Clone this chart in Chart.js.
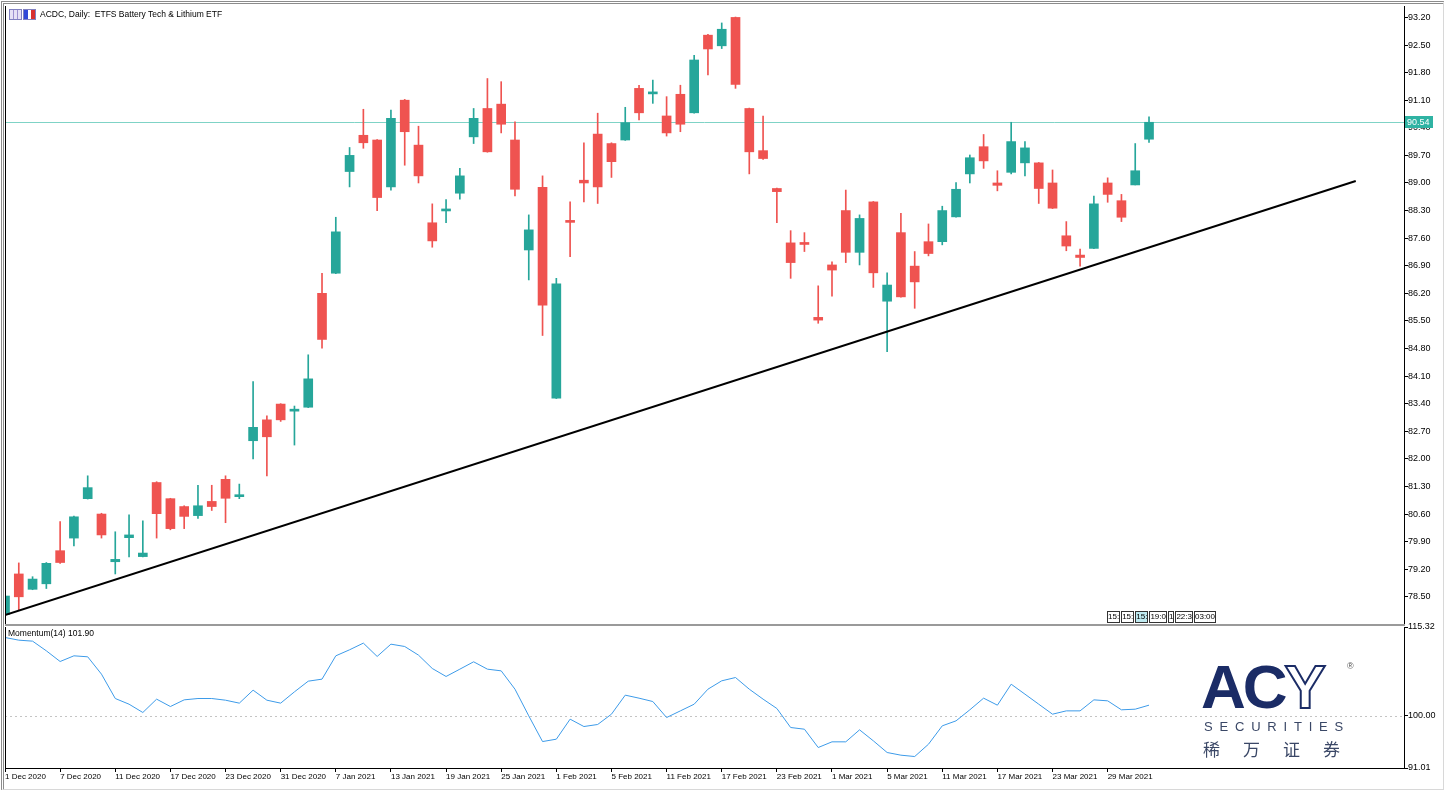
<!DOCTYPE html>
<html>
<head>
<meta charset="utf-8">
<script src="https://cdn.jsdelivr.net/npm/chart.js@4.4.1/dist/chart.umd.min.js"></script>
<style>
  body { margin: 0; background: #fff; width: 1444px; height: 798px; position: relative; overflow: hidden; font-family: 'Liberation Sans', Arial, sans-serif; }
  .abs { position: absolute; }
  #frame { left: 1px; top: 1px; width: 1439px; height: 785px; border-left: 3px double #8c8c8c; border-top: 3px double #8c8c8c; border-right: 1px solid #d8d8d8; border-bottom: 1px solid #d8d8d8; }
  #sep { left: 5px; top: 624px; width: 1400px; height: 2px; background: #9a9a9a; }
  #title { left: 40px; top: 9px; font-size: 8.5px; color: #000; white-space: pre; }
  #momTitle { left: 8px; top: 628px; font-size: 8.5px; color: #000; white-space: pre; }
  .ico { top: 9px; width: 11px; height: 9px; border: 1px solid #8080c0; }
  #times { left: 1107px; top: 611px; font-size: 8px; white-space: nowrap; }
  #times span { display: inline-block; border: 1px solid #333; padding: 0; margin-right: 1px; line-height: 10px; background: #fff; }
  #acy { left: 1201px; top: 652px; color: #1b2c66; font-family: 'Liberation Sans', Arial, sans-serif; font-weight: bold; font-size: 62px; letter-spacing: -3px; line-height: 70px; }
  #acy .y { color: #fff; -webkit-text-stroke: 2px #1b2c66; }
  #reg { left: 1347px; top: 661px; font-size: 9px; color: #555; }
  #sec { left: 1204px; top: 719px; font-size: 13px; letter-spacing: 6.8px; color: #3a4766; }
  #cn { left: 1203px; top: 736px; font-size: 17px; letter-spacing: 23px; color: #3a4766; font-family: 'Noto Sans CJK SC', sans-serif; }
</style>
</head>
<body>
<div id="frame" class="abs"></div>
<canvas id="mainChart" class="abs" style="left:5px;top:6px" width="1439" height="618"></canvas>
<canvas id="momChart" class="abs" style="left:5px;top:621px" width="1439" height="164"></canvas>
<div id="sep" class="abs"></div>
<div class="abs ico" style="left:9px;background:repeating-linear-gradient(90deg,#e6e0f5 0 3px,#9d8fd0 3px 4px)"></div>
<div class="abs ico" style="left:23px;background:linear-gradient(90deg,#3048d8 0 40%,#fff 40% 60%,#d83030 60%)"></div>
<div id="title" class="abs">ACDC, Daily:  ETFS Battery Tech &amp; Lithium ETF</div>
<div id="momTitle" class="abs">Momentum(14) 101.90</div>
<div id="times" class="abs"><span>15:</span><span>15:</span><span style="background:#bfeaf0">15:</span><span>19:0</span><span>1</span><span>22:3</span><span>03:00</span></div>
<div id="acy" class="abs">AC<span class="y">Y</span></div>
<div id="reg" class="abs">®</div>
<div id="sec" class="abs">SECURITIES</div>
<div id="cn" class="abs">稀万证券</div>

<script>
// trading days shown on the chart
const dates = [
  '1 Dec 2020','2 Dec 2020','3 Dec 2020','4 Dec 2020','7 Dec 2020','8 Dec 2020','9 Dec 2020','10 Dec 2020',
  '11 Dec 2020','14 Dec 2020','15 Dec 2020','16 Dec 2020','17 Dec 2020','18 Dec 2020','21 Dec 2020','22 Dec 2020',
  '23 Dec 2020','24 Dec 2020','29 Dec 2020','30 Dec 2020','31 Dec 2020','4 Jan 2021','5 Jan 2021','6 Jan 2021',
  '7 Jan 2021','8 Jan 2021','11 Jan 2021','12 Jan 2021','13 Jan 2021','14 Jan 2021','15 Jan 2021','18 Jan 2021',
  '19 Jan 2021','20 Jan 2021','21 Jan 2021','22 Jan 2021','25 Jan 2021','27 Jan 2021','28 Jan 2021','29 Jan 2021',
  '1 Feb 2021','2 Feb 2021','3 Feb 2021','4 Feb 2021','5 Feb 2021','8 Feb 2021','9 Feb 2021','10 Feb 2021',
  '11 Feb 2021','12 Feb 2021','15 Feb 2021','16 Feb 2021','17 Feb 2021','18 Feb 2021','19 Feb 2021','22 Feb 2021',
  '23 Feb 2021','24 Feb 2021','25 Feb 2021','26 Feb 2021','1 Mar 2021','2 Mar 2021','3 Mar 2021','4 Mar 2021',
  '5 Mar 2021','8 Mar 2021','9 Mar 2021','10 Mar 2021','11 Mar 2021','12 Mar 2021','15 Mar 2021','16 Mar 2021',
  '17 Mar 2021','18 Mar 2021','19 Mar 2021','22 Mar 2021','23 Mar 2021','24 Mar 2021','25 Mar 2021','26 Mar 2021',
  '29 Mar 2021','30 Mar 2021','31 Mar 2021','1 Apr 2021'
];

const openP = [
  78.05, 79.08, 78.69, 78.83, 79.67, 79.99, 80.99, 80.60, 79.39, 80.00, 79.52, 81.40,
  80.99, 80.79, 80.56, 80.92, 81.48, 81.04, 82.46, 82.99, 83.39, 83.21, 83.31, 86.20,
  86.71, 89.29, 90.21, 90.09, 88.90, 91.10, 89.96, 87.99, 88.29, 88.74, 90.17, 90.89,
  91.00, 90.09, 87.30, 88.89, 83.54, 88.02, 89.07, 90.24, 90.00, 90.09, 91.40, 91.26,
  90.70, 91.25, 90.78, 92.75, 92.48, 93.20, 90.89, 89.82, 88.86, 87.48, 87.48, 85.59,
  86.92, 88.30, 87.24, 88.52, 86.00, 87.74, 86.89, 87.51, 87.51, 88.14, 89.23, 89.92,
  89.00, 89.27, 89.51, 89.51, 89.00, 87.66, 87.17, 87.34, 89.00, 88.55, 88.95, 90.11
];
const highP = [
  78.58, 79.36, 79.01, 79.37, 80.41, 80.55, 81.57, 80.62, 80.15, 80.58, 80.43, 81.42,
  81.00, 80.81, 81.33, 81.33, 81.57, 81.36, 83.96, 83.09, 83.40, 83.34, 84.64, 86.71,
  88.13, 89.90, 90.87, 90.10, 90.85, 91.12, 90.44, 88.47, 88.58, 89.37, 90.89, 91.65,
  91.57, 90.55, 88.19, 89.18, 86.58, 88.52, 90.02, 90.77, 90.02, 90.92, 91.48, 91.61,
  91.19, 91.48, 92.24, 92.77, 93.06, 93.21, 90.90, 90.70, 88.87, 87.79, 87.74, 86.39,
  87.00, 88.82, 88.19, 88.53, 86.72, 88.23, 87.26, 87.96, 88.41, 89.01, 89.71, 90.23,
  89.31, 90.54, 90.05, 89.52, 89.33, 88.02, 87.32, 88.67, 89.13, 88.71, 90.00, 90.68
];
const lowP = [
  78.00, 78.16, 78.68, 78.71, 79.35, 79.79, 80.98, 79.99, 79.08, 79.51, 79.51, 79.99,
  80.20, 80.23, 80.49, 80.69, 80.38, 80.99, 82.00, 81.57, 82.95, 82.35, 83.30, 84.81,
  86.70, 88.90, 89.88, 88.30, 88.82, 89.45, 89.00, 87.37, 87.99, 88.59, 90.00, 89.78,
  90.27, 88.67, 86.54, 85.13, 83.53, 87.13, 88.52, 88.48, 89.14, 90.08, 90.60, 91.02,
  90.19, 90.30, 90.77, 91.74, 92.41, 91.40, 89.23, 89.60, 87.99, 86.58, 87.26, 85.44,
  86.13, 86.98, 86.92, 86.35, 84.72, 86.10, 85.82, 87.15, 87.43, 88.13, 89.00, 89.37,
  88.80, 89.23, 89.18, 88.48, 88.35, 87.28, 86.89, 87.33, 88.51, 88.02, 88.95, 90.03
];
const closeP = [
  78.52, 78.50, 78.95, 79.35, 79.37, 80.53, 81.27, 80.07, 79.45, 80.07, 79.61, 80.61,
  80.23, 80.54, 80.81, 80.79, 81.00, 81.09, 82.80, 82.56, 82.99, 83.26, 84.03, 85.03,
  87.76, 89.70, 90.02, 88.63, 90.64, 90.30, 89.18, 87.53, 88.31, 89.18, 90.64, 89.79,
  90.49, 88.84, 87.81, 85.90, 86.44, 88.00, 89.00, 88.90, 89.54, 90.53, 90.78, 91.29,
  90.27, 90.49, 92.12, 92.40, 92.90, 91.50, 89.79, 89.62, 88.78, 86.98, 87.44, 85.52,
  86.79, 87.24, 88.10, 86.72, 86.41, 86.11, 86.49, 87.21, 88.30, 88.84, 89.64, 89.56,
  88.94, 90.05, 89.89, 88.86, 88.36, 87.40, 87.11, 88.47, 88.71, 88.13, 89.31, 90.54
];

// Momentum(14)
const momentum = [
  113.51, 113.05, 112.88, 111.21, 109.37, 110.35, 110.18, 107.19, 102.99, 102.01, 100.58, 102.88,
  101.61, 102.76, 102.99, 102.99, 102.70, 102.19, 104.43, 102.70, 102.19, 104.14, 105.98, 106.33,
  110.35, 111.39, 112.54, 110.24, 112.36, 111.96, 110.47, 108.17, 106.79, 108.05, 109.32, 108.05,
  107.76, 104.60, 100.00, 95.57, 95.98, 99.43, 98.16, 98.51, 100.29, 103.57, 103.05, 102.47,
  99.71, 100.86, 102.01, 104.60, 106.04, 106.61, 104.60, 102.88, 101.27, 97.99, 97.70, 94.54,
  95.52, 95.52, 97.59, 95.69, 93.68, 93.22, 92.99, 95.11, 98.28, 99.14, 101.04, 103.05,
  101.84, 105.46, 103.74, 102.01, 100.29, 100.86, 100.86, 102.76, 102.59, 101.04, 101.15, 101.84
];

const priceTicks = [78.5, 79.2, 79.9, 80.6, 81.3, 82.0, 82.7, 83.4, 84.1, 84.8, 85.5, 86.2,
  86.9, 87.6, 88.3, 89.0, 89.7, 90.4, 91.1, 91.8, 92.5, 93.2];
const momTicks = [91.01, 100.00, 115.32];
const dateTickIdx = [0, 4, 8, 12, 16, 20, 24, 28, 32, 36, 40, 44, 48, 52, 56, 60, 64, 68, 72, 76, 80];
const trendX = [0, 98];
const trendY = [78.04, 89.05];
const bidPrice = 90.54;
const momLevel = 100;

const UP = '#26a69a';
const DOWN = '#ef5350';
const FONT = 'Liberation Sans';

const idx = dates.map((d, i) => i);
const candleCol = idx.map(i => closeP[i] >= openP[i] ? UP : DOWN);

const frame = {
  id: 'frame',
  afterDraw(chart) {
    const { ctx, chartArea: a } = chart;
    ctx.save();
    ctx.strokeStyle = '#000';
    ctx.lineWidth = 1;
    ctx.beginPath();
    ctx.moveTo(a.left + 0.5, a.top);
    ctx.lineTo(a.left + 0.5, a.bottom);
    ctx.moveTo(a.right + 0.5, a.top);
    ctx.lineTo(a.right + 0.5, a.bottom);
    ctx.stroke();
    ctx.restore();
  }
};

const bidLine = {
  id: 'bidLine',
  beforeDatasetsDraw(chart) {
    const { ctx, chartArea: a, scales } = chart;
    const y = Math.round(scales.y.getPixelForValue(bidPrice)) + 0.5;
    ctx.save();
    ctx.strokeStyle = '#7fd3c6';
    ctx.lineWidth = 1;
    ctx.beginPath();
    ctx.moveTo(a.left, y);
    ctx.lineTo(a.right, y);
    ctx.stroke();
    ctx.restore();
  },
  afterDraw(chart) {
    const { ctx, chartArea: a, scales } = chart;
    const y = Math.round(scales.y.getPixelForValue(bidPrice));
    ctx.save();
    ctx.fillStyle = '#2fb3a3';
    ctx.fillRect(a.right + 1, y - 6, 28, 12);
    ctx.fillStyle = '#fff';
    ctx.font = '9px ' + FONT;
    ctx.textBaseline = 'middle';
    ctx.fillText(bidPrice.toFixed(2), a.right + 3, y + 0.5);
    ctx.restore();
  }
};

const momDots = {
  id: 'momDots',
  beforeDatasetsDraw(chart) {
    const { ctx, chartArea: a, scales } = chart;
    const y = Math.round(scales.y.getPixelForValue(momLevel)) + 0.5;
    ctx.save();
    ctx.strokeStyle = '#c4c4c4';
    ctx.setLineDash([2, 3]);
    ctx.beginPath();
    ctx.moveTo(a.left, y);
    ctx.lineTo(a.right, y);
    ctx.stroke();
    ctx.restore();
  }
};

function fixAxisWidth(s) {
  s.width = 40;
  s.paddingTop = 0;
  s.paddingBottom = 0;
}

new Chart(document.getElementById('mainChart'), {
  type: 'bar',
  data: {
    datasets: [
      {
        type: 'line',
        data: trendX.map((x, i) => ({ x, y: trendY[i] })),
        borderColor: '#000',
        borderWidth: 2,
        pointRadius: 0
      },
      {
        data: idx.map(i => ({ x: i, y: [openP[i], closeP[i]] })),
        backgroundColor: candleCol,
        barThickness: 9,
        minBarLength: 2,
        grouped: false,
        clip: 0
      },
      {
        data: idx.map(i => ({ x: i, y: [lowP[i], highP[i]] })),
        backgroundColor: candleCol,
        barThickness: 1,
        grouped: false,
        clip: 0
      }
    ]
  },
  options: {
    responsive: false,
    animation: false,
    layout: { padding: 0 },
    plugins: { legend: { display: false }, tooltip: { enabled: false } },
    scales: {
      x: { type: 'linear', min: 0, max: 101.5, offset: false, display: false },
      y: {
        position: 'right',
        min: 77.81,
        max: 93.49,
        grid: { drawOnChartArea: false, color: '#000', tickLength: 4 },
        border: { color: '#000' },
        ticks: { color: '#000', padding: 0, font: { family: FONT, size: 9 }, callback: v => v.toFixed(2) },
        afterBuildTicks: s => { s.ticks = priceTicks.map(v => ({ value: v })); },
        afterFit: fixAxisWidth
      }
    }
  },
  plugins: [frame, bidLine]
});

new Chart(document.getElementById('momChart'), {
  type: 'line',
  data: {
    datasets: [{
      data: idx.map(i => ({ x: i, y: momentum[i] })),
      borderColor: '#3d9be9',
      borderWidth: 1,
      pointRadius: 0,
      tension: 0
    }]
  },
  options: {
    responsive: false,
    animation: false,
    layout: { padding: { top: 6 } },
    plugins: { legend: { display: false }, tooltip: { enabled: false } },
    scales: {
      x: {
        type: 'linear',
        min: 0,
        max: 101.5,
        grid: { drawOnChartArea: false, color: '#000', tickLength: 4 },
        border: { color: '#000' },
        ticks: {
          color: '#000', padding: 0, align: 'start', maxRotation: 0, autoSkip: false,
          font: { family: FONT, size: 8 },
          callback: v => dates[v] || ''
        },
        afterBuildTicks: s => { s.ticks = dateTickIdx.map(v => ({ value: v })); },
        afterFit: s => { s.height = 17; s.paddingLeft = 0; s.paddingRight = 0; }
      },
      y: {
        position: 'right',
        min: 91.01,
        max: 115.32,
        grid: { drawOnChartArea: false, color: '#000', tickLength: 4 },
        border: { color: '#000' },
        ticks: { color: '#000', padding: 0, font: { family: FONT, size: 9 }, callback: v => v.toFixed(2) },
        afterBuildTicks: s => { s.ticks = momTicks.map(v => ({ value: v })); },
        afterFit: fixAxisWidth
      }
    }
  },
  plugins: [frame, momDots]
});
</script>
</body>
</html>
